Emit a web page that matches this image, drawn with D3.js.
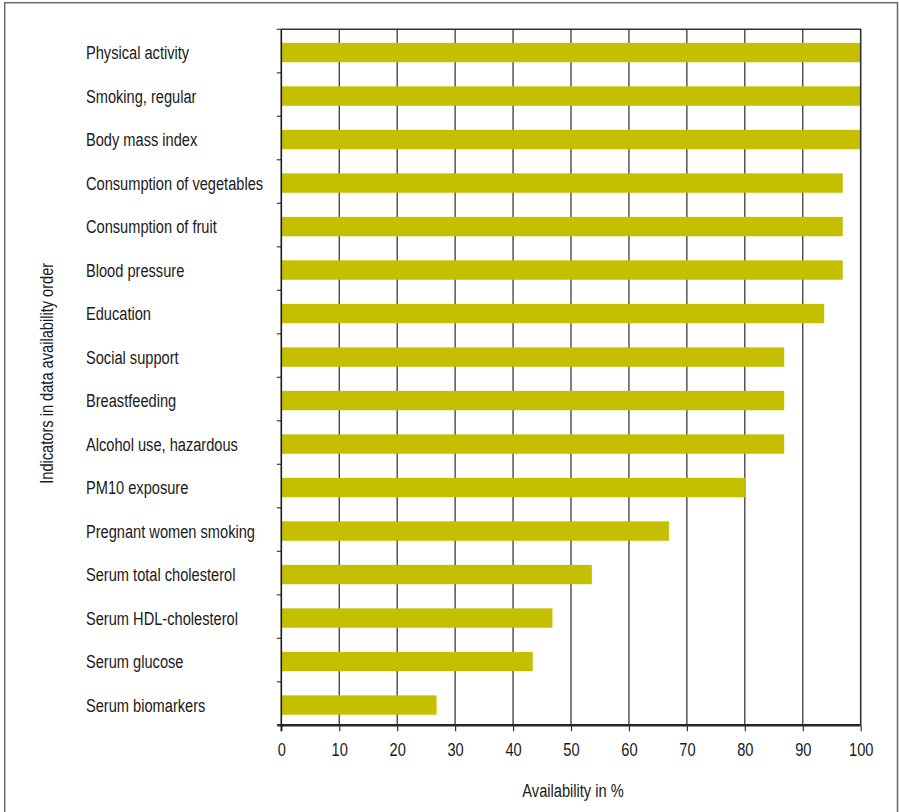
<!DOCTYPE html>
<html>
<head>
<meta charset="utf-8">
<script src="https://cdn.jsdelivr.net/npm/d3@7"></script>
<style>
  html, body { margin: 0; padding: 0; background: #fff; }
  svg text { font-family: "Liberation Sans", Arial, sans-serif; fill: #1a1a1a; }
</style>
</head>
<body>
<svg id="chart" width="899" height="812"></svg>
<script>
const categories = [
  "Physical activity",
  "Smoking, regular",
  "Body mass index",
  "Consumption of vegetables",
  "Consumption of fruit",
  "Blood pressure",
  "Education",
  "Social support",
  "Breastfeeding",
  "Alcohol use, hazardous",
  "PM10 exposure",
  "Pregnant women smoking",
  "Serum total cholesterol",
  "Serum HDL-cholesterol",
  "Serum glucose",
  "Serum biomarkers"
];
const availability = [100, 100, 100, 96.9, 96.9, 96.9, 93.7, 86.8, 86.8, 86.8, 80.2, 66.9, 53.6, 46.8, 43.4, 26.8];
const xTicks = [0, 10, 20, 30, 40, 50, 60, 70, 80, 90, 100];
const xTitle = "Availability in %";
const yTitle = "Indicators in data availability order";

const FS = 19;       // font size
const SX = 0.77;     // horizontal condensing to mimic a condensed face

const svg = d3.select("#chart");
const m = { left: 281.3, right: 860.7, top: 29.3, bottom: 725.3 };

// outer frame
svg.append("rect")
  .attr("x", 4.7).attr("y", 2.7)
  .attr("width", 897.5 - 4.7).attr("height", 830)
  .attr("fill", "none").attr("stroke", "#6a6a6a").attr("stroke-width", 1.5);

const x = d3.scaleLinear().domain([0, 100]).range([m.left, m.right]);
const y = d3.scaleBand().domain(categories).range([m.top, m.bottom]).paddingInner(0).paddingOuter(0);
const barH = 19.4;
const barOff = (y.step() - barH) / 2 + 1.5;

// vertical grid lines
svg.append("g").selectAll("line")
  .data(xTicks.filter(t => t > 0 && t < 100))
  .join("line")
  .attr("x1", d => x(d)).attr("x2", d => x(d))
  .attr("y1", m.top).attr("y2", m.bottom)
  .attr("stroke", "#2a2a2a").attr("stroke-width", 1.2);

// bars
svg.append("g").selectAll("rect")
  .data(categories.map((c, i) => ({ c, v: availability[i] })))
  .join("rect")
  .attr("x", x(0))
  .attr("y", d => y(d.c) + barOff)
  .attr("width", d => x(d.v) - x(0))
  .attr("height", barH)
  .attr("fill", "#c4c000");

// plot frame (top & right)
svg.append("path")
  .attr("d", `M${m.left},${m.top}H${m.right}V${m.bottom}`)
  .attr("fill", "none").attr("stroke", "#333").attr("stroke-width", 1.6);

// x axis
const xAxis = d3.axisBottom(x).tickValues(xTicks).tickSize(6).tickPadding(18).tickFormat(d3.format("d"));
const gx = svg.append("g").attr("transform", `translate(0,${m.bottom})`).call(xAxis);
gx.select(".domain").attr("stroke", "#262626").attr("stroke-width", 2.4).attr("d", `M${m.left - 4},0H${m.right}`);
gx.selectAll(".tick line").attr("stroke", "#333").attr("stroke-width", 1.2);
gx.selectAll(".tick text")
  .attr("font-size", FS).attr("fill", "#1a1a1a")
  .attr("dy", "0.36em")
  .attr("transform", `scale(${SX},1)`)
  .style("font-family", '"Liberation Sans", Arial, sans-serif');

// y axis: ticks at band boundaries
const boundaries = d3.range(categories.length + 1).map(i => m.top + i * y.step());
svg.append("g").selectAll("line").data(boundaries).join("line")
  .attr("x1", m.left - 4.5).attr("x2", m.left)
  .attr("y1", d => d).attr("y2", d => d)
  .attr("stroke", "#444").attr("stroke-width", 1.2);
svg.append("line")
  .attr("x1", m.left).attr("x2", m.left)
  .attr("y1", m.top).attr("y2", m.bottom + 6)
  .attr("stroke", "#1a1a1a").attr("stroke-width", 1.6);

// category labels
svg.append("g").selectAll("text")
  .data(categories)
  .join("text")
  .attr("transform", d => `translate(86,${y(d) + y.step() / 2 + 1.5}) scale(${SX},1)`)
  .attr("dy", "0.36em")
  .attr("font-size", FS)
  .text(d => d);

// axis titles
svg.append("text")
  .attr("transform", `translate(${(m.left + m.right) / 2 + 2},797) scale(${SX},1)`)
  .attr("text-anchor", "middle")
  .attr("font-size", FS)
  .text(xTitle);

svg.append("text")
  .attr("transform", `translate(53,${(m.top + m.bottom) / 2 - 4}) rotate(-90) scale(${SX},1)`)
  .attr("text-anchor", "middle")
  .attr("font-size", FS)
  .text(yTitle);
</script>
</body>
</html>
